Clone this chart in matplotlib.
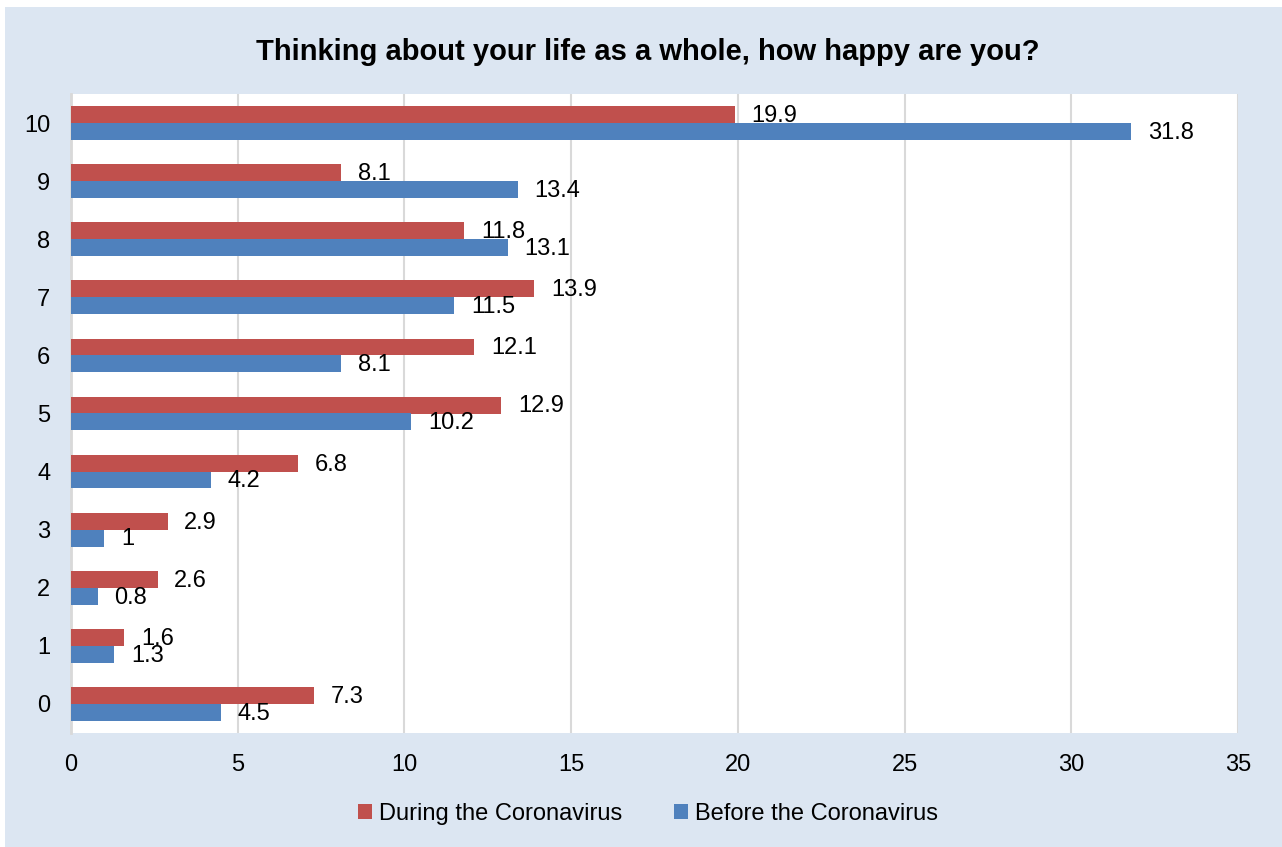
import matplotlib
matplotlib.use('Agg')
import matplotlib.pyplot as plt
from matplotlib.patches import Rectangle
import numpy as np

# ── data ────────────────────────────────────────────────────────────────
categories = ['0', '1', '2', '3', '4', '5', '6', '7', '8', '9', '10']
during = [7.3, 1.6, 2.6, 2.9, 6.8, 12.9, 12.1, 13.9, 11.8, 8.1, 19.9]
before = [4.5, 1.3, 0.8, 1.0, 4.2, 10.2, 8.1, 11.5, 13.1, 13.4, 31.8]
xticks = [0, 5, 10, 15, 20, 25, 30, 35]
title = 'Thinking about your life as a whole, how happy are you?'

RED = '#C0504D'
BLUE = '#4F81BD'
BG = '#DCE6F2'
GRID = '#D9D9D9'

plt.rcParams['font.family'] = ['Liberation Sans', 'DejaVu Sans']

fig = plt.figure(figsize=(12.82, 8.47), dpi=100, facecolor='white')
W, H = 1282, 847
fig.patches.append(Rectangle((5 / W, 0), 1 - 5 / W, 1 - 7 / H,
                             transform=fig.transFigure, facecolor=BG,
                             edgecolor='none', zorder=-10))

ax = fig.add_axes([71 / W, 1 - 733 / H, (1238 - 71) / W, (733 - 94) / H])
ax.set_facecolor('white')

y = np.arange(len(categories))
h = 0.29
b1 = ax.barh(y + h / 2, during, height=h, color=RED, label='During the Coronavirus', zorder=3)
b2 = ax.barh(y - h / 2, before, height=h, color=BLUE, label='Before the Coronavirus', zorder=3)

for bars, vals in ((b1, during), (b2, before)):
    for rect, v in zip(bars, vals):
        ax.annotate(f'{v:g}', (rect.get_width(), rect.get_y() + rect.get_height() / 2),
                    xytext=(12, -1), textcoords='offset points',
                    va='center', ha='left', fontsize=17, color='black', zorder=4)

ax.set_xlim(0, 35)
ax.set_ylim(-0.5, len(categories) - 0.5)
ax.set_xticks(xticks)
ax.set_xticklabels([str(t) for t in xticks])
ax.set_yticks(y)
ax.set_yticklabels(categories)
ax.tick_params(axis='both', length=0, labelsize=17)
ax.tick_params(axis='y', pad=15)
ax.tick_params(axis='x', pad=15)
ax.grid(axis='x', color=GRID, lw=1.5, zorder=0)
for s in ('top', 'right', 'bottom'):
    ax.spines[s].set_visible(False)
ax.spines['left'].set_color(GRID)
ax.spines['left'].set_linewidth(2)

fig.text(648 / W, 1 - 52 / H, title, ha='center', va='center',
         fontsize=21, fontweight='bold')

fig.legend(handles=[b1, b2], loc='center', bbox_to_anchor=(648 / W, 1 - 814 / H),
           ncol=2, frameon=False, fontsize=17, handlelength=0.6, handleheight=0.6,
           handletextpad=0.3, columnspacing=2.2)

fig.savefig('out.png', dpi=100, facecolor='white')
